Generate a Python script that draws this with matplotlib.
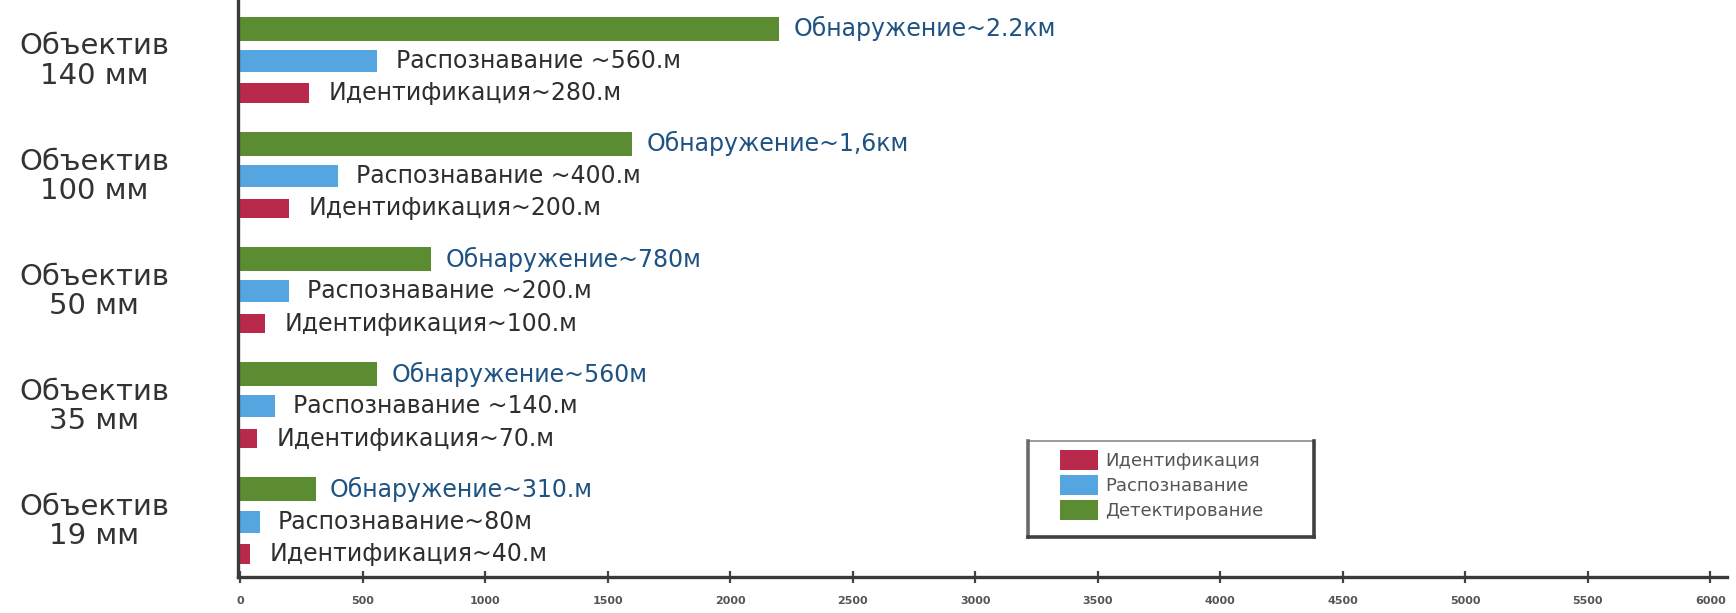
import matplotlib
matplotlib.use("Agg")
import matplotlib.pyplot as plt
import matplotlib.transforms as mtransforms
from matplotlib.patches import Patch
from matplotlib.lines import Line2D

plt.rcParams['font.family'] = ['DejaVu Sans']

# Lenses, top to bottom
lenses = ["Объектив\n140 мм", "Объектив\n100 мм", "Объектив\n50 мм",
          "Объектив\n35 мм", "Объектив\n19 мм"]

# Ranges in metres for each lens
detection = [2200, 1600, 780, 560, 310]
recognition = [560, 400, 200, 140, 80]
identification = [280, 200, 100, 70, 40]

detection_labels = ["Обнаружение~2.2км", "Обнаружение~1,6км", "Обнаружение~780м",
                    "Обнаружение~560м", "Обнаружение~310.м"]
recognition_labels = ["Распознавание ~560.м", "Распознавание ~400.м", "Распознавание ~200.м",
                      "Распознавание ~140.м", "Распознавание~80м"]
identification_labels = ["Идентификация~280.м", "Идентификация~200.м", "Идентификация~100.м",
                         "Идентификация~70.м", "Идентификация~40.м"]

legend_names = ["Идентификация", "Распознавание", "Детектирование"]

xticks = [0, 500, 1000, 1500, 2000, 2500, 3000, 3500, 4000, 4500, 5000, 5500, 6000]

GREEN = "#5b8c32"
BLUE = "#55a6e0"
RED = "#b8294b"

W, H = 1736, 613
fig = plt.figure(figsize=(W / 100, H / 100), dpi=100)
ax = fig.add_axes([0.137, 0.059, 0.858, 0.941])

n = len(lenses)
centers = list(range(n))
y_det = [c - 0.28 for c in centers]
y_rec = centers
y_id = [c + 0.28 for c in centers]

ax.barh(y_det, detection, height=0.21, color=GREEN, left=0)
ax.barh(y_rec, recognition, height=0.19, color=BLUE, left=0)
ax.barh(y_id, identification, height=0.17, color=RED, left=0)

ax.set_xlim(-10, 6070)
ax.set_ylim(4.48, -0.53)

pt = dict(textcoords="offset points", va="center", ha="left")
for i in range(n):
    ax.annotate(detection_labels[i], (detection[i], y_det[i]), xytext=(10, 0),
                fontsize=17, color="#1e5283", **pt)
    ax.annotate(recognition_labels[i], (recognition[i], y_rec[i]), xytext=(13, 0),
                fontsize=17, color="#2e2e2e", **pt)
    ax.annotate(identification_labels[i], (identification[i], y_id[i]), xytext=(14, 0),
                fontsize=17, color="#2e2e2e", **pt)

# Lens names to the left of the axis
trans = mtransforms.blended_transform_factory(fig.transFigure, ax.transData)
for i, name in enumerate(lenses):
    ax.text(94 / W, centers[i], name, transform=trans, ha="center", va="center",
            fontsize=21, color="#333333", linespacing=1.05)

# Axes styling
for side in ("top", "right"):
    ax.spines[side].set_visible(False)
for side in ("left", "bottom"):
    ax.spines[side].set_linewidth(2.4)
    ax.spines[side].set_color("#3a3a3a")
ax.set_yticks([])
ax.set_xticks(xticks)
ax.set_xticklabels([str(t) for t in xticks], fontsize=8, fontweight="bold", color="#555555")
ax.tick_params(axis="x", direction="inout", length=8, width=1.6, color="#444444", pad=10)

# Legend without its own frame; the frame is drawn separately below
handles = [Patch(facecolor=RED), Patch(facecolor=BLUE), Patch(facecolor=GREEN)]
leg = fig.legend(handles, legend_names, loc="upper left",
                 bbox_to_anchor=(1060 / W, 1 - 450 / H), bbox_transform=fig.transFigure,
                 fontsize=13, frameon=False, handlelength=2.1, handleheight=1.3,
                 handletextpad=0.4, labelspacing=0.28, borderpad=0, borderaxespad=0,
                 labelcolor="#555555")

x0, x1 = 1028 / W, 1314 / W
y0, y1 = 1 - 537 / H, 1 - 441 / H
frame_edges = [
    ((x0, x1), (y1, y1), 1.2, "#8a8a8a"),
    ((x0, x0), (y0, y1), 2.6, "#6a6a6a"),
    ((x0, x1), (y0, y0), 2.6, "#404040"),
    ((x1, x1), (y0, y1), 2.6, "#404040"),
]
for xs, ys, lw, col in frame_edges:
    fig.add_artist(Line2D(xs, ys, lw=lw, color=col, transform=fig.transFigure,
                          solid_capstyle="projecting"))

fig.savefig("out.png", dpi=100)
